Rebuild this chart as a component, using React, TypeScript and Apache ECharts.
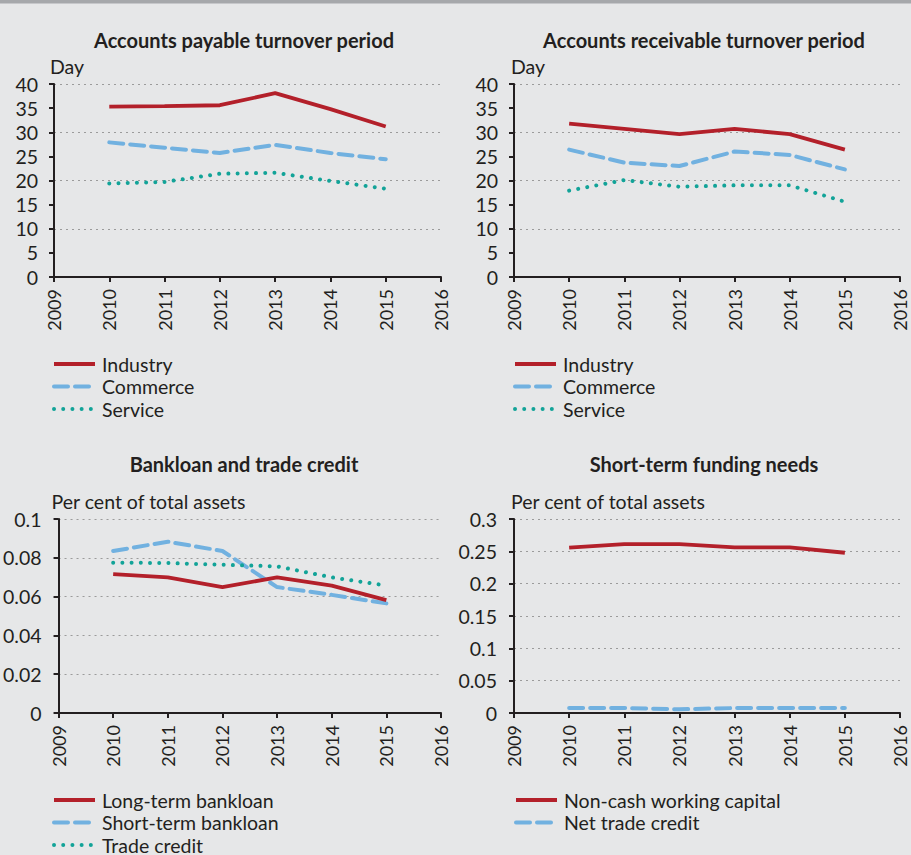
import React, { useEffect, useRef } from "react";
import * as echarts from "echarts";

const years = [2010, 2011, 2012, 2013, 2014, 2015];

const payIndustry = [35.3, 35.4, 35.6, 38.1, 34.8, 31.2];
const payCommerce = [27.9, 26.8, 25.7, 27.4, 25.7, 24.4];
const payService = [19.4, 19.7, 21.4, 21.6, 19.9, 18.3];

const recIndustry = [31.8, 30.7, 29.6, 30.7, 29.6, 26.4];
const recCommerce = [26.4, 23.7, 23.0, 26.0, 25.3, 22.3];
const recService = [17.9, 20.1, 18.7, 19.0, 19.0, 15.6];

const longTermLoan = [0.0716, 0.0699, 0.0649, 0.0699, 0.0657, 0.0582];
const shortTermLoan = [0.0835, 0.0883, 0.0835, 0.0649, 0.0609, 0.0565];
const tradeCredit = [0.0775, 0.0773, 0.0764, 0.0756, 0.0699, 0.0657];

const nonCashWC = [0.2556, 0.2613, 0.2613, 0.2561, 0.2561, 0.2478];
const netTradeCredit = [0.0077, 0.0077, 0.0057, 0.0077, 0.0077, 0.0077];

const titles = [
  "Accounts payable turnover period",
  "Accounts receivable turnover period",
  "Bankloan and trade credit",
  "Short-term funding needs",
];

const FONT = "Lato";
const DARK = "#231f20";
const RED = "#b3202a";
const BLUE = "#71b1e0";
const TEAL = "#12a398";

const solid = { color: RED, width: 3.8, type: "solid" as any };
const dashed = { color: BLUE, width: 4, type: [14, 7] as any, cap: "round" as any };
const dotted = { color: TEAL, width: 4, type: [0.01, 9.2] as any, cap: "round" as any };

function pairs(vals: number[]) {
  return years.map((y, i) => [y, vals[i]]);
}

export default function App() {
  const ref = useRef<HTMLDivElement>(null);
  useEffect(() => {
    document.body.style.margin = "0";
    const chart = echarts.init(ref.current!, null, { renderer: "svg" });

    const grids = [
      { left: 54, top: 84, width: 387, height: 193 },
      { left: 514, top: 84, width: 386, height: 193 },
      { left: 54, top: 519, width: 387, height: 194 },
      { left: 514, top: 519, width: 386, height: 194 },
    ];

    const yCfg = [
      { max: 40, interval: 5, gridInt: 10, name: "Day", margin: 16, namePad: -4 },
      { max: 40, interval: 5, gridInt: 10, name: "Day", margin: 16, namePad: -3 },
      { max: 0.1, interval: 0.02, gridInt: 0.02, name: "Per cent of total assets", margin: 17, namePad: -7 },
      { max: 0.3, interval: 0.05, gridInt: 0.05, name: "Per cent of total assets", margin: 17, namePad: -3 },
    ];

    const xAxes: any[] = grids.map((_, i) => ({
      type: "value",
      gridIndex: i,
      min: 2009,
      max: 2016,
      interval: 1,
      axisLine: { show: true, lineStyle: { color: DARK, width: 2 } },
      axisTick: { show: true, length: 5, lineStyle: { color: DARK, width: 2 } },
      axisLabel: {
        rotate: 90,
        margin: 12,
        fontFamily: FONT,
        fontSize: 18,
        color: DARK,
        formatter: (v: number) => String(v),
      },
      splitLine: { show: false },
    }));

    const yAxes: any[] = [];
    yCfg.forEach((c, i) => {
      yAxes.push({
        type: "value",
        gridIndex: i,
        min: 0,
        max: c.max,
        interval: c.interval,
        name: c.name,
        nameLocation: "end",
        nameGap: 18,
        nameMoveOverlap: false,
        nameTextStyle: {
          align: "left",
          verticalAlign: "middle",
          fontFamily: FONT,
          fontSize: 19.5,
          color: DARK,
          padding: [0, 0, 0, c.namePad],
        },
        axisLine: { show: true, lineStyle: { color: DARK, width: 2 } },
        axisTick: { show: true, length: 5, lineStyle: { color: DARK, width: 2 } },
        axisLabel: {
          margin: c.margin,
          fontFamily: FONT,
          fontSize: 19.5,
          color: DARK,
        },
        splitLine: { show: false },
      });
    });
    yCfg.forEach((c, i) => {
      yAxes.push({
        type: "value",
        gridIndex: i,
        min: 0,
        max: c.max,
        interval: c.gridInt,
        axisLine: { show: false },
        axisTick: { show: false },
        axisLabel: { show: false },
        splitLine: {
          show: true,
          lineStyle: { color: "#9b9b9b", width: 1.2, type: [2, 4] },
        },
      });
    });

    const mk = (name: string, vals: number[], style: any, idx: number) => ({
      type: "line",
      name,
      xAxisIndex: idx,
      yAxisIndex: idx,
      data: pairs(vals),
      symbol: "none",
      lineStyle: style,
      itemStyle: { color: style.color },
      z: style === solid ? 3 : 2,
    });

    const series: any[] = [
      mk("Industry", payIndustry, solid, 0),
      mk("Commerce", payCommerce, dashed, 0),
      mk("Service", payService, dotted, 0),
      mk("Industry", recIndustry, solid, 1),
      mk("Commerce", recCommerce, dashed, 1),
      mk("Service", recService, dotted, 1),
      mk("Long-term bankloan", longTermLoan, solid, 2),
      mk("Short-term bankloan", shortTermLoan, dashed, 2),
      mk("Trade credit", tradeCredit, dotted, 2),
      mk("Non-cash working capital", nonCashWC, solid, 3),
      mk("Net trade credit", netTradeCredit, dashed, 3),
    ];

    const legendBase = {
      orient: "vertical",
      padding: 0,
      height: 90,
      itemWidth: 41,
      itemHeight: 14,
      itemGap: 0.5,
      selectedMode: false,
      itemStyle: { color: "rgba(0,0,0,0)", opacity: 0, borderWidth: 0 },
      lineStyle: { width: 4 },
      textStyle: {
        fontFamily: FONT,
        fontSize: 19.5,
        color: DARK,
        lineHeight: 22,
        padding: [0, 0, 0, 2],
      },
    };

    const legends: any[] = [
      { ...legendBase, left: 52, top: 353, data: ["Industry", "Commerce", "Service"] },
      { ...legendBase, left: 513, top: 353, data: ["Industry", "Commerce", "Service"] },
      { ...legendBase, left: 52, top: 789, data: ["Long-term bankloan", "Short-term bankloan", "Trade credit"] },
      { ...legendBase, left: 514, top: 789, data: ["Non-cash working capital", "Net trade credit"] },
    ];

    const titleCenters = [
      [244, 40],
      [704, 40],
      [244, 464],
      [704, 464],
    ];
    const titleOpts: any[] = titles.map((t, i) => ({
      text: t,
      left: titleCenters[i][0],
      top: titleCenters[i][1] - 12,
      textAlign: "center",
      padding: 0,
      textStyle: { fontFamily: FONT, fontSize: 20, fontWeight: "bold", color: DARK, lineHeight: 24 },
    }));

    chart.setOption({
      animation: false,
      backgroundColor: "#e6e7e8",
      title: titleOpts,
      grid: grids,
      xAxis: xAxes,
      yAxis: yAxes,
      legend: legends,
      series,
      graphic: [
        {
          type: "rect",
          left: 0,
          top: 0,
          shape: { width: 911, height: 3.5 },
          style: { fill: "#a6a8ab" },
        },
      ],
    });
    return () => chart.dispose();
  }, []);
  return <div ref={ref} style={{ width: 911, height: 855 }} />;
}
